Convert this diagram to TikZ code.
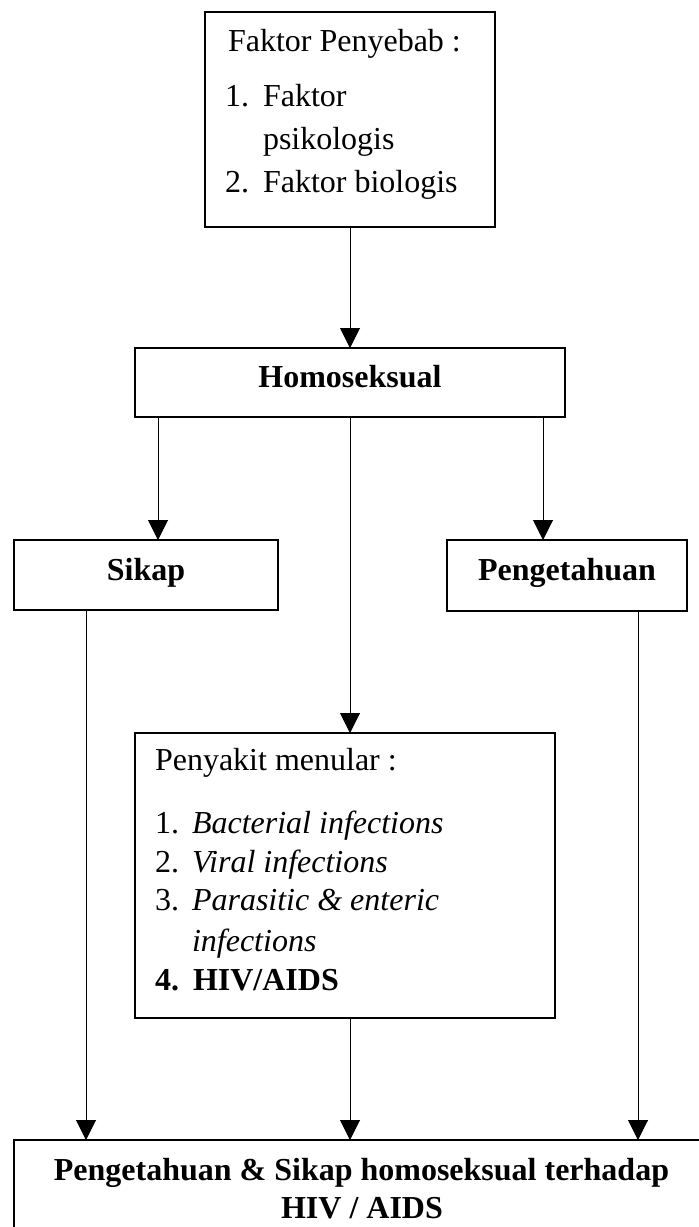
\documentclass[tikz,border=0pt]{standalone}
\usepackage{fontspec}
\setmainfont{Liberation Serif}
\usetikzlibrary{arrows.meta}
\begin{document}
\begin{tikzpicture}[x=1pt,y=-1pt,
  box/.style={draw=black,line width=1.8pt,inner sep=0pt,outer sep=0pt,rectangle},
  arr/.style={draw=black,line width=1pt,-{Triangle[width=20pt,length=20pt]}},
  txt/.style={inner sep=0pt,outer sep=0pt,anchor=base west,font=\fontsize{32}{40}\selectfont},
  ctxt/.style={inner sep=0pt,outer sep=0pt,anchor=base,font=\fontsize{32}{40}\selectfont\bfseries}]
\fill[white] (0,0) rectangle (699,1227);
\useasboundingbox (0,0) rectangle (699,1227);
% boxes
\node[box,minimum width=290pt,minimum height=215pt] (top) at (350,119.5) {};
\node[box,minimum width=430pt,minimum height=69pt] (homo) at (350,382.5) {};
\node[box,minimum width=264pt,minimum height=70pt] (sikap) at (146,575) {};
\node[box,minimum width=240pt,minimum height=71pt] (peng) at (567,575.5) {};
\node[box,minimum width=420pt,minimum height=285pt] (peny) at (345,875.5) {};
\node[box,minimum width=695pt,minimum height=124pt] (bot) at (361.5,1202) {};
% texts top box
\node[txt] (t0) at (228,51) {Faktor Penyebab :};
\node[txt] (t1n) at (225,106) {1.};
\node[txt] (t1) at (263,106) {Faktor};
\node[txt] (t1b) at (263,149) {psikologis};
\node[txt] (t2n) at (225,192) {2.};
\node[txt] (t2) at (263,192) {Faktor biologis};
% single labels
\node[ctxt] (homot) at (350,387) {Homoseksual};
\node[ctxt] (sikapt) at (146,580) {Sikap};
\node[ctxt] (pengt) at (567,580) {Pengetahuan};
% penyakit box
\node[txt] (p0) at (155,770) {Penyakit menular :};
\node[txt] (p1n) at (155,833) {1.};
\node[txt] (p1) at (192,833) {\itshape Bacterial infections};
\node[txt] (p2n) at (155,872) {2.};
\node[txt] (p2) at (192,872) {\itshape Viral infections};
\node[txt] (p3n) at (155,910) {3.};
\node[txt] (p3) at (192,910) {\itshape Parasitic \& enteric};
\node[txt] (p3b) at (192,951) {\itshape infections};
\node[txt] (p4n) at (155,990) {\bfseries 4.};
\node[txt] (p4) at (193,990) {\bfseries HIV/AIDS};
% bottom
\node[ctxt] (b1) at (361.5,1180) {Pengetahuan \& Sikap homoseksual terhadap};
\node[ctxt] (b2) at (362,1218) {HIV / AIDS};
% connectors
\draw[arr] (top.south) -- (homo.north);
\draw[arr] (homo.south -| 158,0) -- (sikap.north -| 158,0);
\draw[arr] (homo.south) -- (homo.south |- peny.north);
\draw[arr] (homo.south -| 543,0) -- (peng.north -| 543,0);
\draw[arr] (sikap.south -| 86,0) -- (bot.north -| 86,0);
\draw[arr] (peny.south -| 350,0) -- (bot.north -| 350,0);
\draw[arr] (peng.south -| 638,0) -- (bot.north -| 638,0);
\end{tikzpicture}
\end{document}
